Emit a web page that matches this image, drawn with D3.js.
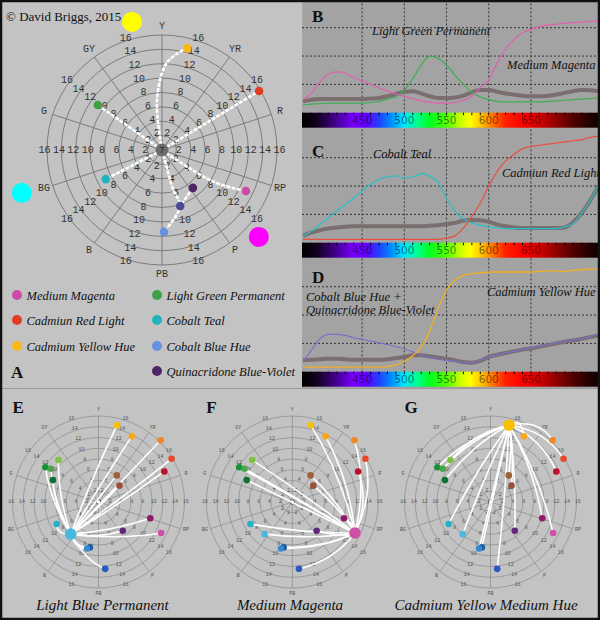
<!DOCTYPE html>
<html><head><meta charset="utf-8">
<script src="https://cdn.jsdelivr.net/npm/d3@7"></script>
<style>body{margin:0;background:#c4c4c4}svg{display:block}</style>
</head><body><svg id="c" width="600" height="620"></svg>
<script>
// ---------- DATA ----------
const hueLabels = ["Y","YR","R","RP","P","PB","B","BG","G","GY"];
const ringTicks = [2,4,6,8,10,12,14,16];

// Panel A paints (hue angle deg clockwise from Y, chroma)
const paintNames = ["Medium Magenta","Cadmiun Red Light","Cadmium Yellow Hue","Light Green Permanent","Cobalt Teal","Cobalt Blue Hue","Quinacridone Blue-Violet"];
const paintColors = ["#cc4aa8","#e23c20","#f8b818","#40a045","#22b4bc","#6890e0","#4e2468"];
const paintHue = [116, 58.7, 13.8, 305, 242.6, 178.6, 140.8];
const paintChroma = [13.0, 15.8, 14.6, 10.9, 8.8, 11.4, 6.8];
const mixHue = 162, mixChroma = 8.2;
const primaryNames = ["Yellow","Cyan","Magenta"];
const primaryColors = ["#ffff00","#00ffff","#ff00ff"];
const primaryHue = [346.8, 253, 131.9];
const primaryChroma = [18.3, 20.4, 18.1];
// mixing paths in panel A: [hue, chroma]
const pathYellow = [[0,0],[354.3,7.0],[3.3,12.2],[13.8,14.6]];
const pathRed = [[0,0],[58.7,15.8]];
const pathGreen = [[0,0],[305,10.9]];
const pathTeal = [[0,0],[242.6,8.8]];
const pathMagenta = [[0,0],[121.7,8.4],[116,13.0]];
const pathBlue = [[0,0],[164.7,3.3],[164.2,5.8],[162,8.2],[178.6,11.4]];
const pathViolet = [[140.8,6.8],[162,8.2]];

// Spectra
const wavelengths = [380,390,400,410,420,430,440,450,460,470,480,490,500,510,520,530,540,550,560,570,580,590,600,610,620,630,640,650,660,670,680,690,700,710,720,730];
const gridWavelengths = [450,500,550,600,650];
const gridReflect = [0.25,0.5,0.75];
const magentaB = [.115,.17,.27,.34,.36,.35,.31,.28,.25,.22,.19,.165,.145,.125,.105,.095,.085,.085,.09,.11,.145,.22,.29,.44,.56,.645,.705,.735,.76,.775,.78,.79,.795,.8,.805,.81];
const greenB = [.07,.075,.08,.085,.085,.085,.085,.085,.09,.1,.12,.14,.2,.3,.42,.5,.48,.42,.33,.25,.18,.14,.115,.1,.095,.095,.095,.095,.095,.1,.105,.11,.115,.12,.125,.13];
const grayB = [.1,.115,.12,.12,.12,.12,.12,.12,.125,.13,.145,.165,.185,.19,.17,.145,.13,.13,.135,.15,.18,.2,.2,.185,.17,.16,.15,.145,.145,.15,.16,.175,.19,.2,.198,.19];
const tealC = [.06,.1,.16,.22,.28,.335,.395,.455,.515,.56,.58,.59,.57,.58,.61,.59,.53,.39,.28,.21,.175,.155,.14,.13,.125,.125,.125,.125,.125,.125,.125,.14,.17,.26,.37,.51];
const redC = [.03,.03,.03,.03,.03,.03,.03,.03,.03,.03,.03,.03,.03,.03,.03,.03,.03,.04,.06,.13,.23,.35,.5,.63,.72,.78,.83,.85,.86,.87,.88,.89,.9,.91,.93,.94];
const grayC = [.06,.09,.11,.125,.135,.14,.145,.145,.145,.145,.145,.145,.145,.145,.145,.15,.155,.165,.175,.195,.2,.198,.185,.16,.145,.135,.13,.13,.13,.13,.13,.135,.18,.26,.37,.5];
const yellowD = [.04,.04,.04,.04,.04,.04,.04,.04,.04,.04,.045,.06,.09,.14,.22,.36,.56,.72,.81,.85,.865,.872,.88,.88,.88,.88,.88,.88,.885,.89,.89,.885,.895,.9,.905,.905];
const violetMixD = [.09,.19,.29,.33,.33,.32,.3,.285,.27,.255,.24,.22,.2,.175,.145,.125,.11,.1,.09,.08,.08,.1,.13,.15,.165,.18,.195,.21,.225,.24,.255,.27,.28,.29,.31,.33];
const grayD = [.1,.105,.11,.115,.115,.11,.105,.105,.105,.105,.11,.12,.13,.145,.145,.135,.125,.115,.1,.085,.08,.095,.13,.15,.165,.18,.195,.205,.22,.235,.25,.265,.275,.29,.305,.32];

// Panels E-G points
const miniColors = ["#f8c000","#f8a818","#f08828","#e84828","#c01028","#a06038","#985038","#901868","#602878","#d050a8","#2858c0","#1858a0","#3888d0","#48b8e0","#20b0c8","#107038","#189038","#48a848","#80c040"];
const miniHue = [13.6,26.9,45.2,59.4,65.1,34.5,52.1,107.5,139.7,116.3,174.3,190.8,193.7,220.8,242.2,295.7,303.2,304.9,316.4];
const miniChroma = [14.7,13.7,16.3,15.8,13.5,6.0,4.95,10.1,7.0,13.0,12.5,8.6,8.9,7.9,8.8,9.4,11.8,10.8,10.8];
const miniTitles = ["Light Blue Permanent","Medium Magenta","Cadmium Yellow Medium Hue"];
const miniLetters = ["E","F","G"];
const miniSources = [13, 9, 0];

// ---------- DRAW ----------
const deg = Math.PI/180;
const svg = d3.select("#c");
const serif = "'Liberation Serif','Times New Roman',serif";
const mono = "'Liberation Mono','Courier New',monospace";
svg.append("rect").attr("width",600).attr("height",620).attr("fill","#c3c3c3");

function polar(h, c, r){ return [r(c)*Math.sin(h*deg), -r(c)*Math.cos(h*deg)]; }

function polarGrid(g, r, fs, labR, strokeW, col, txtCol){
  ringTicks.forEach(t => g.append("circle").attr("r", r(t)).attr("fill","none").attr("stroke",col).attr("stroke-width",strokeW));
  hueLabels.forEach((lab,i) => {
    const [x,y] = polar(i*36, 16, r);
    g.append("line").attr("x1",0).attr("y1",0).attr("x2",x).attr("y2",y).attr("stroke",col).attr("stroke-width",strokeW);
    const a = i*36*deg;
    g.append("text").attr("x", labR*Math.sin(a)).attr("y", -labR*Math.cos(a))
      .attr("text-anchor","middle").attr("dominant-baseline","central")
      .attr("font-family",mono).attr("font-size",fs).attr("fill",txtCol).text(lab);
  });
  hueLabels.forEach((_,i) => {
    const a = (i*36+18)*deg;
    ringTicks.forEach(t => {
      const rr = r(t) + fs*0.25;
      g.append("text").attr("x", rr*Math.sin(a)).attr("y", -rr*Math.cos(a))
        .attr("text-anchor","middle").attr("dominant-baseline","central")
        .attr("font-family",mono).attr("font-size",fs).attr("fill",txtCol).text(t);
    });
  });
}

// Panel A
const gA = svg.append("g").attr("transform","translate(162,150)");
const rA = d3.scaleLinear().domain([0,16]).range([0,115]);
polarGrid(gA, rA, 10, 124, 1, "#7c7c7c", "#333");
const radial = d3.lineRadial().angle(d=>d[0]*deg).radius(d=>rA(d[1])).curve(d3.curveCatmullRom);
[pathYellow,pathRed,pathGreen,pathTeal,pathMagenta,pathBlue,pathViolet].forEach(p=>{
  gA.append("path").attr("d", radial(p)).attr("fill","none").attr("stroke","#fff")
    .attr("stroke-width",2.6).attr("stroke-dasharray","4,1.3");
});
gA.append("circle").attr("r",6.5).attr("fill","#6c6c6c");
gA.append("text").attr("x",0).attr("y",3).attr("text-anchor","middle").attr("font-family",mono).attr("font-size",9).attr("fill","#222").text("7");
paintNames.forEach((n,i)=>{
  const [x,y] = polar(paintHue[i], paintChroma[i], rA);
  gA.append("circle").attr("cx",x).attr("cy",y).attr("r",4.3).attr("fill",paintColors[i]);
});
{ const [x,y] = polar(mixHue, mixChroma, rA);
  gA.append("circle").attr("cx",x).attr("cy",y).attr("r",4.3).attr("fill","#4c4a98"); }
primaryNames.forEach((n,i)=>{
  const [x,y] = polar(primaryHue[i], primaryChroma[i], rA);
  gA.append("circle").attr("cx",x).attr("cy",y).attr("r",10).attr("fill",primaryColors[i]);
});
svg.append("text").attr("x",6).attr("y",21).attr("font-family",serif).attr("font-size",13).attr("fill","#111").text("© David Briggs, 2015");

// Legend
const legX = [17,17,17,157,157,157,157], legY = [295,320,346,295,320,346,371];
const legOrder = [0,1,2,3,4,5,6];
legOrder.forEach((pi,k)=>{
  svg.append("circle").attr("cx",legX[k]).attr("cy",legY[k]).attr("r",5).attr("fill",paintColors[pi]);
  svg.append("text").attr("x",legX[k]+9.5).attr("y",legY[k]+4.5).attr("font-family",serif).attr("font-style","italic")
    .attr("font-size",12.5).attr("fill","#111").text(paintNames[pi]);
});
svg.append("text").attr("x",11).attr("y",378).attr("font-family",serif).attr("font-weight","bold").attr("font-size",17).attr("fill","#111").text("A");

// Spectra panels
const x = d3.scaleLinear().domain([380,730]).range([303,598.5]);
const specStops = [[380,"#000000"],[395,"#10001a"],[410,"#300060"],[425,"#5000b0"],[440,"#7a00ff"],[455,"#6000ff"],[470,"#2040ff"],[485,"#0090ff"],[500,"#00e8ff"],[515,"#00ff90"],[530,"#00ff20"],[550,"#50ff00"],[565,"#c0ff00"],[578,"#ffff00"],[592,"#ffc000"],[605,"#ff7000"],[620,"#ff2000"],[640,"#ff0000"],[660,"#d00000"],[680,"#900000"],[700,"#500000"],[720,"#200000"],[730,"#100000"]];
const defs = svg.append("defs");
const grad = defs.append("linearGradient").attr("id","spec").attr("gradientUnits","userSpaceOnUse")
  .attr("x1",x(380)).attr("x2",x(730)).attr("y1",0).attr("y2",0);
specStops.forEach(s=>grad.append("stop").attr("offset",(s[0]-380)/350).attr("stop-color",s[1]));

svg.append("rect").attr("x",302).attr("y",0).attr("width",298).attr("height",388).attr("fill","#a3a3a3");

function specPanel(top, series, labels, letter, id){
  const y = d3.scaleLinear().domain([0,1]).range([top+113.3, top]);
  defs.append("clipPath").attr("id",id).append("rect").attr("x",302).attr("y",top).attr("width",298).attr("height",113.3);
  const g = svg.append("g");
  gridWavelengths.forEach(w=>g.append("line").attr("x1",x(w)).attr("x2",x(w)).attr("y1",top).attr("y2",top+113.3)
    .attr("stroke","#333").attr("stroke-dasharray","2,2"));
  gridReflect.forEach(v=>g.append("line").attr("x1",302).attr("x2",600).attr("y1",y(v)).attr("y2",y(v))
    .attr("stroke","#333").attr("stroke-dasharray","2,2"));
  const line = d3.line().x((d,i)=>x(wavelengths[i])).y(d=>y(d)).curve(d3.curveMonotoneX);
  const lg = g.append("g").attr("clip-path",`url(#${id})`);
  series.forEach(s=>lg.append("path").attr("d",line(s.values)).attr("fill","none").attr("stroke",s.color).attr("stroke-width",s.w));
  labels.forEach(l=>g.append("text").attr("x",l[1]).attr("y",l[2]).attr("font-family",serif).attr("font-style","italic")
    .attr("font-size",12.5).attr("fill","#111").text(l[0]));
  g.append("text").attr("x",312).attr("y",top+letter[1]).attr("font-family",serif).attr("font-weight","bold").attr("font-size",17).attr("fill","#111").text(letter[0]);
  // spectrum bar
  const by = top+113.3;
  g.append("rect").attr("x",302).attr("y",by).attr("width",298).attr("height",15).attr("fill","url(#spec)");
  wavelengths.forEach(w=>g.append("line").attr("x1",x(w)).attr("x2",x(w)).attr("y1",by).attr("y2",by+2.5).attr("stroke","#000"));
  gridWavelengths.forEach(w=>g.append("text").attr("x",x(w)).attr("y",by+11.5).attr("text-anchor","middle")
    .attr("font-family","'DejaVu Sans',Verdana,sans-serif").attr("font-size",10.5).attr("fill","#000").attr("fill-opacity",0.5).text(w));
}
specPanel(-0.6, [{values:grayB,color:"#7a6e6e",w:4},{values:greenB,color:"#3cb050",w:1.2},{values:magentaB,color:"#e060b0",w:1.2}],
  [["Light Green Permanent",372,35],["Medium Magenta",507,69]], ["B",22.5], "cb");
specPanel(129.4, [{values:grayC,color:"#7a6e6e",w:4},{values:tealC,color:"#28c0c8",w:1.2},{values:redC,color:"#e85040",w:1.2}],
  [["Cobalt Teal",373,158],["Cadmiun Red Light",502,177]], ["C",27.5], "cc");
specPanel(258.4, [{values:grayD,color:"#7a6e6e",w:4},{values:violetMixD,color:"#7a70c8",w:1.2},{values:yellowD,color:"#f0b020",w:1.3}],
  [["Cobalt Blue Hue +",306,301],["Quinacridone Blue-Violet",306,314],["Cadmium Yellow Hue",487,296]], ["D",24.5], "cd");

svg.append("line").attr("x1",0).attr("x2",600).attr("y1",388.5).attr("y2",388.5).attr("stroke","#9a9a9a");

// Panels E, F, G
const miniCx = [98.5, 292.3, 490.5], miniCy = 502;
const titleCx = [102.5, 290, 486];
const rM = d3.scaleLinear().domain([0,16]).range([0,86]);
miniTitles.forEach((t,k)=>{
  const g = svg.append("g").attr("transform",`translate(${miniCx[k]},${miniCy})`);
  polarGrid(g, rM, 5, 92, 0.7, "#8a8a8a", "#555");
  g.append("circle").attr("r",2.2).attr("fill","#fff").attr("stroke","#333").attr("stroke-width",0.8);
  const s = miniSources[k];
  const ps = polar(miniHue[s], miniChroma[s], rM);
  miniHue.forEach((h,i)=>{
    if(i===s) return;
    const pt = polar(h, miniChroma[i], rM);
    const mx = (ps[0]+pt[0])/2, my = (ps[1]+pt[1])/2;
    const path = d3.path();
    path.moveTo(ps[0],ps[1]);
    path.quadraticCurveTo(mx*1.2, my*1.2, pt[0], pt[1]);
    g.append("path").attr("d",path.toString()).attr("fill","none").attr("stroke","#fff").attr("stroke-width",1.6);
  });
  miniHue.forEach((h,i)=>{
    const [px,py] = polar(h, miniChroma[i], rM);
    g.append("circle").attr("cx",px).attr("cy",py).attr("r", i===s?5.8:3.3).attr("fill",miniColors[i]);
  });
  svg.append("text").attr("x",titleCx[k]).attr("y",610).attr("text-anchor","middle").attr("font-family",serif)
    .attr("font-style","italic").attr("font-size",15).attr("fill","#111").text(t);
  svg.append("text").attr("x",miniCx[k]-86).attr("y",413).attr("font-family",serif).attr("font-weight","bold")
    .attr("font-size",17).attr("fill","#111").text(miniLetters[k]);
});

// outer frame
svg.append("rect").attr("x",1).attr("y",1).attr("width",598).attr("height",618).attr("fill","none").attr("stroke","#111").attr("stroke-width",2.5);
</script></body></html>
